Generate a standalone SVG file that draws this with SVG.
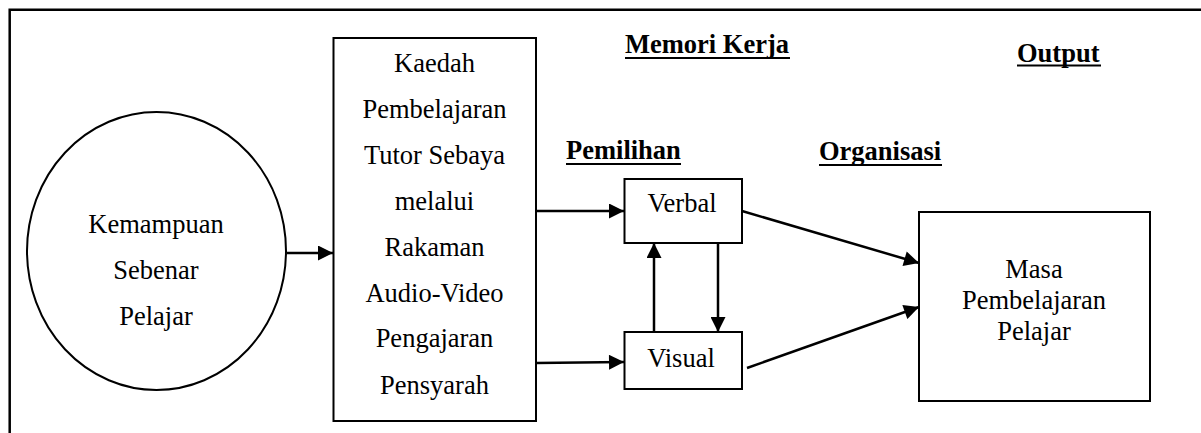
<svg xmlns="http://www.w3.org/2000/svg" width="1201" height="433" viewBox="0 0 1201 433">
<style>
.shape{fill:#fff;stroke:#000;stroke-width:2}
.frame{fill:none;stroke:#000;stroke-width:2.5}
.t{font-family:"Liberation Serif","Times New Roman",serif;font-size:26.5px;fill:#000;text-anchor:middle}
.h{font-family:"Liberation Serif","Times New Roman",serif;font-size:26.5px;font-weight:bold;fill:#000}
.ul{stroke:#000;stroke-width:2.2}
.c{stroke:#000;stroke-width:2.5;fill:none;marker-end:url(#ah)}
</style>
<defs>
<marker id="ah" viewBox="0 0 10 10" refX="10" refY="5" markerUnits="userSpaceOnUse" markerWidth="16" markerHeight="15" orient="auto">
<path d="M0,0 L10,5 L0,10 z" fill="#000"/>
</marker>
</defs>
<rect x="0" y="0" width="1201" height="433" fill="#fff"/>
<path class="frame" d="M9.7,433 V9.7 H1201"/>
<g id="headings">
<text class="h" x="625" y="53">Memori Kerja</text>
<line class="ul" x1="625" y1="58" x2="790" y2="58"/>
<text class="h" x="1017" y="62">Output</text>
<line class="ul" x1="1017" y1="65.5" x2="1101" y2="65.5"/>
<text class="h" x="566" y="159">Pemilihan</text>
<line class="ul" x1="566" y1="164" x2="681" y2="164"/>
<text class="h" x="819" y="160">Organisasi</text>
<line class="ul" x1="819" y1="165" x2="942" y2="165"/>
</g>
<g id="node-kemampuan">
<ellipse class="shape" cx="156.5" cy="251" rx="129.5" ry="139"/>
<text class="t" x="156" y="233">Kemampuan</text>
<text class="t" x="156" y="279">Sebenar</text>
<text class="t" x="156" y="325">Pelajar</text>
</g>
<g id="node-kaedah">
<rect class="shape" x="333.5" y="38" width="202.5" height="383"/>
<text class="t" x="434.5" y="72">Kaedah</text>
<text class="t" x="434.5" y="118">Pembelajaran</text>
<text class="t" x="434.5" y="164">Tutor Sebaya</text>
<text class="t" x="434.5" y="210">melalui</text>
<text class="t" x="434.5" y="256">Rakaman</text>
<text class="t" x="434.5" y="302">Audio-Video</text>
<text class="t" x="434.5" y="347">Pengajaran</text>
<text class="t" x="434.5" y="394">Pensyarah</text>
</g>
<g id="node-verbal">
<rect class="shape" x="624.5" y="179" width="117.5" height="64"/>
<text class="t" x="682" y="212">Verbal</text>
</g>
<g id="node-visual">
<rect class="shape" x="624.5" y="332" width="117.5" height="57"/>
<text class="t" x="681" y="367">Visual</text>
</g>
<g id="node-masa">
<rect class="shape" x="919" y="212" width="231" height="189"/>
<text class="t" x="1034" y="277.5">Masa</text>
<text class="t" x="1034" y="308.5">Pembelajaran</text>
<text class="t" x="1034" y="340">Pelajar</text>
</g>
<g id="connectors">
<line class="c" x1="287" y1="253" x2="333" y2="253"/>
<line class="c" x1="536" y1="211" x2="624" y2="211"/>
<line class="c" x1="536" y1="363" x2="624" y2="362"/>
<line class="c" x1="654" y1="332" x2="654" y2="243"/>
<line class="c" x1="718" y1="243" x2="718" y2="332"/>
<line class="c" x1="742" y1="211" x2="919" y2="263"/>
<line class="c" x1="747" y1="368" x2="919" y2="307"/>
</g>
</svg>
